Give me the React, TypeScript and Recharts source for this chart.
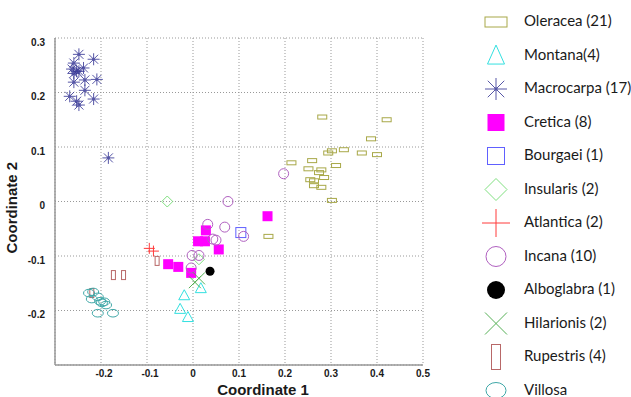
import { ScatterChart, Scatter, XAxis, YAxis, CartesianGrid } from "recharts";

type Pt = { x: number; y: number };
const pts = (a: number[][]): Pt[] => a.map(([x, y]) => ({ x, y }));

const oleracea = pts([
  [0.281, 0.155], [0.421, 0.15], [0.387, 0.115], [0.302, 0.093], [0.294, 0.089],
  [0.328, 0.095], [0.367, 0.089], [0.4, 0.086], [0.214, 0.071], [0.259, 0.075],
  [0.251, 0.06], [0.279, 0.058], [0.274, 0.053], [0.311, 0.066], [0.285, 0.044],
  [0.255, 0.04], [0.263, 0.038], [0.263, 0.029], [0.279, 0.026], [0.302, 0.002],
  [0.164, -0.064],
]);
const montana = pts([[-0.019, -0.172], [0.017, -0.159], [-0.028, -0.197], [-0.011, -0.212]]);
const macrocarpa = pts([
  [-0.248, 0.27], [-0.216, 0.261], [-0.259, 0.254], [-0.263, 0.243], [-0.253, 0.239],
  [-0.238, 0.245], [-0.259, 0.235], [-0.248, 0.239], [-0.209, 0.224], [-0.235, 0.223],
  [-0.259, 0.219], [-0.235, 0.204], [-0.268, 0.193], [-0.253, 0.184], [-0.216, 0.188],
  [-0.248, 0.177], [-0.184, 0.08],
]);
const cretica = pts([
  [0.028, -0.053], [0.011, -0.073], [0.026, -0.073], [0.056, -0.088],
  [0.162, -0.027], [-0.054, -0.115], [-0.032, -0.12], [-0.004, -0.131],
]);
const bourgaei = pts([[0.104, -0.057]]);
const insularis = pts([[-0.056, 0.0], [0.013, -0.106]]);
const atlantica = pts([[-0.095, -0.086], [-0.086, -0.091]]);
const incana = pts([
  [0.197, 0.051], [0.076, 0.0], [0.032, -0.042], [0.069, -0.047], [0.043, -0.069],
  [0.05, -0.071], [0.11, -0.064], [-0.002, -0.099], [0.013, -0.099], [-0.004, -0.122],
]);
const alboglabra = pts([[0.037, -0.128]]);
const hilarionis = pts([[0.004, -0.148], [0.013, -0.141]]);
const rupestris = pts([[-0.078, -0.109], [-0.173, -0.135], [-0.151, -0.135], [-0.22, -0.168]]);
const villosa = pts([
  [-0.226, -0.168], [-0.217, -0.166], [-0.22, -0.179], [-0.207, -0.175], [-0.202, -0.183],
  [-0.198, -0.186], [-0.193, -0.184], [-0.189, -0.19], [-0.207, -0.205], [-0.174, -0.205],
]);

const xTicks = [-0.3, -0.2, -0.1, 0, 0.1, 0.2, 0.3, 0.4, 0.5];
const yTicks = [-0.3, -0.2, -0.1, 0, 0.1, 0.2, 0.3];

type Kind =
  | "hrect" | "tri" | "star" | "fsq" | "sq" | "dia" | "plus" | "circ" | "dot" | "cross" | "vrect" | "ell";

const series: { name: string; data: Pt[]; kind: Kind; color: string }[] = [
  { name: "Oleracea (21)", data: oleracea, kind: "hrect", color: "#a8a848" },
  { name: "Montana(4)", data: montana, kind: "tri", color: "#33e0e0" },
  { name: "Macrocarpa (17)", data: macrocarpa, kind: "star", color: "#3a3a98" },
  { name: "Cretica (8)", data: cretica, kind: "fsq", color: "#ff00ff" },
  { name: "Bourgaei (1)", data: bourgaei, kind: "sq", color: "#6060ff" },
  { name: "Insularis (2)", data: insularis, kind: "dia", color: "#80e080" },
  { name: "Atlantica (2)", data: atlantica, kind: "plus", color: "#ff3a3a" },
  { name: "Incana (10)", data: incana, kind: "circ", color: "#b060c0" },
  { name: "Alboglabra (1)", data: alboglabra, kind: "dot", color: "#000000" },
  { name: "Hilarionis (2)", data: hilarionis, kind: "cross", color: "#55b055" },
  { name: "Rupestris (4)", data: rupestris, kind: "vrect", color: "#b86868" },
  { name: "Villosa", data: villosa, kind: "ell", color: "#40a8a8" },
];

// big = legend sample, otherwise plot marker
function marker(kind: Kind, cx: number, cy: number, color: string, big: boolean) {
  const common = { fill: "none", stroke: color, strokeWidth: 1 };
  switch (kind) {
    case "hrect": {
      const w = big ? 22 : 9, h = big ? 10 : 4;
      return <rect x={cx - w / 2} y={cy - h / 2} width={w} height={h} {...common} />;
    }
    case "vrect": {
      const w = big ? 9 : 4, h = big ? 25 : 9;
      return <rect x={cx - w / 2} y={cy - h / 2} width={w} height={h} {...common} />;
    }
    case "tri": {
      const hw = big ? 8.5 : 5.5, h = big ? 19 : 10;
      return (
        <polygon
          points={`${cx},${cy - h * 0.55} ${cx - hw},${cy + h * 0.45} ${cx + hw},${cy + h * 0.45}`}
          {...common}
        />
      );
    }
    case "star": {
      const r = big ? 11 : 6, d = r * 0.75;
      return (
        <g stroke={color} strokeWidth={1} opacity={0.85}>
          <line x1={cx - r} y1={cy} x2={cx + r} y2={cy} />
          <line x1={cx} y1={cy - r} x2={cx} y2={cy + r} />
          <line x1={cx - d} y1={cy - d} x2={cx + d} y2={cy + d} />
          <line x1={cx - d} y1={cy + d} x2={cx + d} y2={cy - d} />
          <circle cx={cx} cy={cy} r={1.2} fill={color} />
        </g>
      );
    }
    case "fsq": {
      const s = big ? 17 : 10;
      return <rect x={cx - s / 2} y={cy - s / 2} width={s} height={s} fill={color} />;
    }
    case "sq": {
      const s = big ? 17 : 10;
      return <rect x={cx - s / 2} y={cy - s / 2} width={s} height={s} {...common} />;
    }
    case "dia": {
      const r = big ? 11 : 5.5;
      return (
        <polygon points={`${cx},${cy - r} ${cx + r},${cy} ${cx},${cy + r} ${cx - r},${cy}`} {...common} />
      );
    }
    case "plus": {
      const r = big ? 14 : 5.5;
      return (
        <g stroke={color} strokeWidth={1}>
          <line x1={cx - r} y1={cy} x2={cx + r} y2={cy} />
          <line x1={cx} y1={cy - r} x2={cx} y2={cy + r} />
        </g>
      );
    }
    case "cross": {
      const r = big ? 11 : 6;
      return (
        <g stroke={color} strokeWidth={1}>
          <line x1={cx - r} y1={cy - r} x2={cx + r} y2={cy + r} />
          <line x1={cx - r} y1={cy + r} x2={cx + r} y2={cy - r} />
        </g>
      );
    }
    case "circ":
      return <circle cx={cx} cy={cy} r={big ? 10 : 5} {...common} />;
    case "dot":
      return <circle cx={cx} cy={cy} r={big ? 9 : 4.5} fill={color} />;
    case "ell":
      return <ellipse cx={cx} cy={cy} rx={big ? 10 : 5.5} ry={big ? 8 : 3.8} {...common} />;
  }
  return <g />;
}

const fmt = (v: number) => (Math.abs(v) < 1e-9 ? "0" : String(v));
const tickFont = { fontFamily: "Liberation Sans, Arial, sans-serif", fontSize: 10, fontWeight: "bold" as const, fill: "#1a1a1a" };

function XTick(props: any) {
  const { x, y, payload } = props;
  if (payload.value <= -0.3) return <g />;
  return (
    <text x={x + (payload.value < 0 ? 3 : 0)} y={y} dy="0.71em" textAnchor="middle" {...tickFont}>
      {fmt(payload.value)}
    </text>
  );
}

function YTick(props: any) {
  const { x, y, payload } = props;
  if (payload.value <= -0.3) return <g />;
  return (
    <text x={x} y={y + 4} dy="0.35em" textAnchor="end" {...tickFont}>
      {fmt(payload.value)}
    </text>
  );
}

const titleFont = { fontFamily: "Liberation Sans, Arial, sans-serif", fontSize: 15, fontWeight: "bold" as const, fill: "#1a1a1a" };

function Legend12() {
  return (
    <svg width={170} height={397} style={{ position: "absolute", left: 461, top: 0 }}>
      {series.map((s, i) => {
        const cy = 21 + i * 33.5;
        return (
          <g key={s.name}>
            {marker(s.kind, 35, cy + 1, s.color, true)}
            <text x={63} y={cy} dy="0.35em" fontFamily="Lato, 'Open Sans', sans-serif" fontSize={15} fill="#1a1a1a">
              {s.name}
            </text>
          </g>
        );
      })}
    </svg>
  );
}

export default function App() {
  return (
    <div style={{ position: "absolute", left: 0, top: 0, width: 631, height: 397, background: "#fff" }}>
      <ScatterChart width={631} height={397} margin={{ top: 38, right: 208, bottom: 0, left: 0 }}>
        <CartesianGrid stroke="#999" strokeDasharray="1 2" />
        <XAxis
          type="number"
          dataKey="x"
          domain={[-0.3, 0.5]}
          ticks={xTicks}
          height={32}
          tickLine={false}
          tickSize={3}
          tickMargin={2}
          tick={<XTick />}
          axisLine={{ stroke: "#999", strokeWidth: 1.5 }}
          label={{ value: "Coordinate 1", position: "insideBottom", offset: 2, dx: 24, ...titleFont }}
        />
        <YAxis
          type="number"
          dataKey="y"
          domain={[-0.3, 0.3]}
          ticks={yTicks}
          width={55}
          tickLine={false}
          tickSize={6}
          tickMargin={4}
          tick={<YTick />}
          axisLine={{ stroke: "#999", strokeWidth: 1.5 }}
          label={{ value: "Coordinate 2", angle: -90, position: "insideLeft", offset: 12, dy: 52, ...titleFont }}
        />
        {series.map((s) => (
          <Scatter
            key={s.name}
            name={s.name}
            data={s.data}
            isAnimationActive={false}
            shape={(p: any) => marker(s.kind, p.cx, p.cy, s.color, false)}
          />
        ))}
      </ScatterChart>
      <Legend12 />
    </div>
  );
}
